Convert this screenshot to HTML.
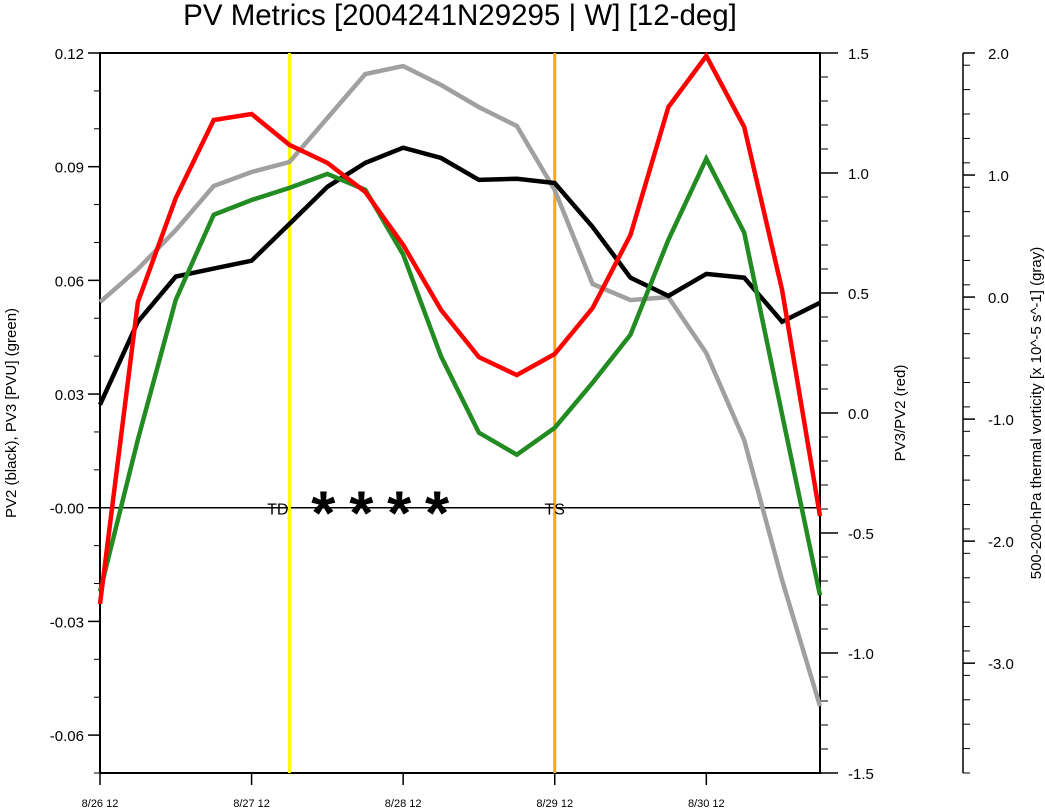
<!DOCTYPE html>
<html><head><meta charset="utf-8"><style>
html,body{margin:0;padding:0;background:#fff;}
svg{display:block;font-family:"Liberation Sans",sans-serif;}
</style></head><body>
<svg id="c" width="1045" height="812" viewBox="0 0 1045 812">
<text x="460" y="25" font-size="29.5" text-anchor="middle">PV Metrics [2004241N29295 | W] [12-deg]</text>
<g id="g"></g>
</svg>
<script>
const xLabels=["8/26 12","8/27 12","8/28 12","8/29 12","8/30 12"];
const leftTicks=[0.12,0.09,0.06,0.03,0.0,-0.03,-0.06];
const leftTickLabels=["0.12","0.09","0.06","0.03","-0.00","-0.03","-0.06"];
const redTicks=[1.5,1.0,0.5,0.0,-0.5,-1.0,-1.5];
const grayTicks=[2.0,1.0,0.0,-1.0,-2.0,-3.0];
const pv2=[0.0272,0.0491,0.0610,0.0631,0.0652,0.0749,0.0847,0.0910,0.0950,0.0923,0.0865,0.0868,0.0857,0.0741,0.0607,0.0559,0.0617,0.0607,0.0491,0.0541];
const pv3=[-0.0221,0.0180,0.0549,0.0773,0.0812,0.0844,0.0881,0.0839,0.0668,0.0399,0.0198,0.0140,0.0211,0.0330,0.0457,0.0707,0.0921,0.0726,0.0246,-0.0231];
const ratio=[-0.796,0.4625,0.896,1.221,1.246,1.117,1.042,0.921,0.70,0.429,0.233,0.158,0.246,0.4375,0.742,1.275,1.4875,1.192,0.5125,-0.429];
const vort=[-0.041,0.230,0.549,0.910,1.025,1.107,1.467,1.828,1.893,1.738,1.557,1.402,0.877,0.107,-0.025,0.0,-0.459,-1.172,-2.320,-3.352];
const tdIndex=5, tsIndex=12;
const starIdx=[6,7,8,9];

const X0=100,X1=820,Y0=53,Y1=773;
const xs=i=>X0+i*(X1-X0)/19;
const yL=v=>Y0+(0.12-v)*(Y1-Y0)/0.19;
const yR=v=>Y0+(1.5-v)*(Y1-Y0)/3.0;
const yG=v=>Y0+(2.0-v)*(Y1-Y0)/5.9;
const g=document.getElementById('g');
const NS='http://www.w3.org/2000/svg';
function mk(t,a,txt){const e=document.createElementNS(NS,t);for(const k in a)e.setAttribute(k,a[k]);if(txt!==undefined)e.textContent=txt;g.appendChild(e);return e;}

let e;
e=mk('rect',{x:X0,y:Y0,width:X1-X0,height:Y1-Y0,fill:'none',stroke:'#000','stroke-width':2});


e=mk('line',{x1:X0,x2:X1,y1:yL(0),y2:yL(0),stroke:'#000','stroke-width':1.5});


for(let v=-0.07;v<=0.1201;v+=0.01){const y=yL(v);mk('line',{x1:X0-6,x2:X0,y1:y,y2:y,stroke:'#000'});}
leftTicks.forEach((v,i)=>{const y=yL(v);mk('line',{x1:X0-12,x2:X0,y1:y,y2:y,stroke:'#000','stroke-width':1.5});
 e=mk('text',{x:X0-16,y:y+6,'font-size':15,'text-anchor':'end'},leftTickLabels[i]);
 
 });
for(let v=-1.5;v<=1.501;v+=0.1){const y=yR(v);mk('line',{x1:X1,x2:X1+8,y1:y,y2:y,stroke:'#000'});}
redTicks.forEach(v=>{const y=yR(v);mk('line',{x1:X1,x2:X1+18,y1:y,y2:y,stroke:'#000','stroke-width':1.5});
 e=mk('text',{x:X1+28,y:y+6,'font-size':15,'text-anchor':'start'},v.toFixed(1));
 
 });
const GX=963;
e=mk('line',{x1:GX,x2:GX,y1:Y0,y2:Y1,stroke:'#000','stroke-width':1.5});


for(let v=-3.9;v<=2.001;v+=0.2){const y=yG(v);mk('line',{x1:GX,x2:GX+7,y1:y,y2:y,stroke:'#000'});}
grayTicks.forEach(v=>{const y=yG(v);mk('line',{x1:GX,x2:GX+12,y1:y,y2:y,stroke:'#000','stroke-width':1.5});
 e=mk('text',{x:GX+25,y:y+6,'font-size':15},v.toFixed(1));
 
 });
xLabels.forEach((l,i)=>{const x=xs(i*4);mk('line',{x1:x,x2:x,y1:Y1,y2:Y1+12,stroke:'#000','stroke-width':1.5});
 e=mk('text',{x:x,y:807,'font-size':11,'text-anchor':'middle'},l);
 
 });
e=mk('line',{x1:xs(tdIndex),x2:xs(tdIndex),y1:Y0,y2:Y1,stroke:'#ffff00','stroke-width':3});


e=mk('line',{x1:xs(tsIndex),x2:xs(tsIndex),y1:Y0,y2:Y1,stroke:'#f5a623','stroke-width':3});


e=mk('text',{x:xs(tdIndex)-1,y:yL(0)+7,'font-size':16,'text-anchor':'end'},'TD');


e=mk('text',{x:xs(tsIndex),y:yL(0)+7,'font-size':16,'text-anchor':'middle'},'TS');


starIdx.forEach(i=>{e=mk('text',{x:xs(i)-4,y:yL(0)+27,'font-size':62,'font-weight':'bold','text-anchor':'middle'},'*');
 
 });
function line(arr,f,col,name){const p=arr.map((v,i)=>xs(i).toFixed(1)+','+f(v).toFixed(1)).join(' ');
 const el=mk('polyline',{points:p,fill:'none',stroke:col,'stroke-width':4.5,'stroke-linejoin':'miter'});
 
 }
line(vort,yG,'#a0a0a0','gray-vorticity-line');
line(pv2,yL,'#000000','black-pv2-line');
line(pv3,yL,'#228b22','green-pv3-line');
line(ratio,yR,'#ff0000','red-ratio-line');
e=mk('text',{x:0,y:0,'font-size':15,'text-anchor':'middle',transform:'translate(16,'+((Y0+Y1)/2)+') rotate(-90)'},'PV2 (black), PV3 [PVU] (green)');


e=mk('text',{x:0,y:0,'font-size':15,'text-anchor':'middle',transform:'translate(905,'+((Y0+Y1)/2)+') rotate(-90)'},'PV3/PV2 (red)');


e=mk('text',{x:0,y:0,'font-size':15,'text-anchor':'middle',transform:'translate(1041,'+((Y0+Y1)/2)+') rotate(-90)'},'500-200-hPa thermal vorticity [x 10^-5 s^-1] (gray)');


</script>
</body></html>
